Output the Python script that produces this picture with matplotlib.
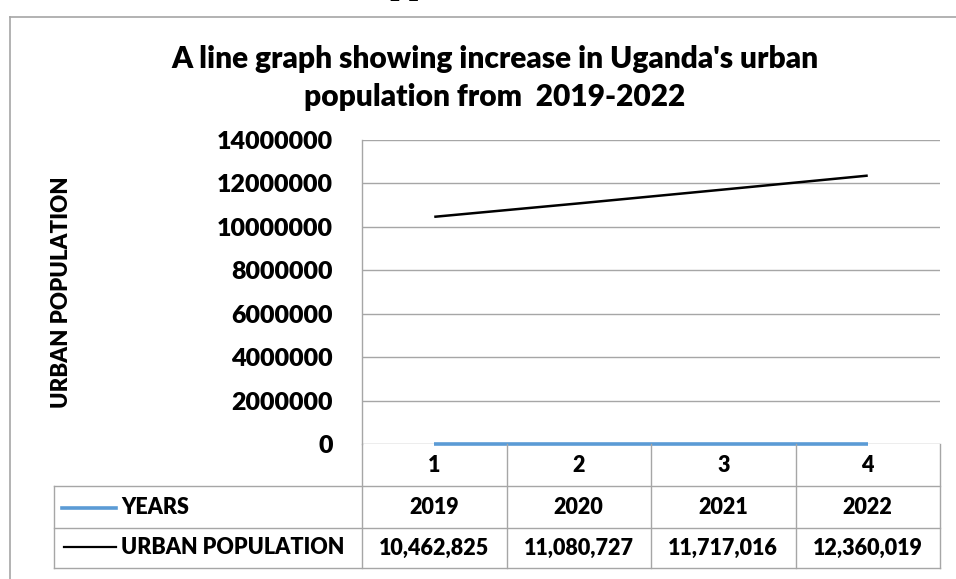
import matplotlib
matplotlib.use("Agg")
import matplotlib.pyplot as plt
from matplotlib.lines import Line2D
from matplotlib.transforms import blended_transform_factory

# ---- data ----
categories = ["1", "2", "3", "4"]
years = [2019, 2020, 2021, 2022]
urban_population = [10462825, 11080727, 11717016, 12360019]
series_names = ["YEARS", "URBAN POPULATION"]
yticks = [0, 2000000, 4000000, 6000000, 8000000, 10000000, 12000000, 14000000]
title = "A line graph showing increase in Uganda's urban\npopulation from  2019-2022"
ylabel = "URBAN POPULATION"

W, H = 956, 579
plt.rcParams['font.family'] = ['Lato', 'DejaVu Sans']
plt.rcParams['font.weight'] = 'bold'
WT = 'heavy'

fig = plt.figure(figsize=(W / 100, H / 100), dpi=100)
fig.patch.set_facecolor("white")

def fx(x):
    return x / W

def fy(y):
    return 1 - y / H

GRID = "#a6a6a6"
BLUE = "#5b9bd5"

# axes: left 362, right 940, top 140, bottom 444 (px)
ax = fig.add_axes([fx(362), fy(444), fx(940) - fx(362), fy(140) - fy(444)])
ax.set_xlim(-0.5, len(categories) - 0.5)
ax.set_ylim(yticks[0], yticks[-1])
ax.set_yticks(yticks)
ax.set_yticklabels([str(v) for v in yticks], fontsize=18, fontweight=WT)
ax.set_xticks([])
ax.tick_params(axis='y', length=0, pad=21)
ax.grid(axis='y', color=GRID, linewidth=1.0)
ax.set_axisbelow(True)
for s in ["top", "right", "bottom"]:
    ax.spines[s].set_visible(False)
ax.spines["left"].set_color(GRID)
ax.spines["left"].set_linewidth(1.0)

xs = list(range(len(categories)))
ax.plot(xs, years, color=BLUE, linewidth=2.6, solid_capstyle='butt', zorder=3, clip_on=False)
ax.plot(xs, urban_population, color="black", linewidth=1.8, solid_capstyle='butt', zorder=3)

# ---- y label ----
fig.text(fx(61), fy(292), ylabel, rotation=90, ha='center', va='center',
         fontsize=16, fontweight=WT)

# ---- title ----
fig.text(fx(495), fy(78), title, ha='center', va='center', fontsize=21.5,
         fontweight=WT, linespacing=1.45)

# ---- heading of the document, cut off at the top ----
fig.text(fx(367), fy(-6), "Appendix", ha='left', va='baseline', fontsize=24,
         fontweight='bold', family=['Liberation Serif', 'DejaVu Serif'])

# ---- chart outer border ----
fig.add_artist(Line2D([fx(10), fx(10)], [fy(17), fy(H + 5)], transform=fig.transFigure,
                      color=GRID, linewidth=1.2))
fig.add_artist(Line2D([fx(10), fx(W + 5)], [fy(17), fy(17)], transform=fig.transFigure,
                      color=GRID, linewidth=1.2))

# ---- data table ----
tb = blended_transform_factory(ax.transData, fig.transFigure)
row_tops = [444, 486, 528, 568]
tl = 54
tr = 940
lw = 1.0
for y in row_tops[1:]:
    fig.add_artist(Line2D([fx(tl), fx(tr)], [fy(y), fy(y)], transform=fig.transFigure,
                          color=GRID, linewidth=lw))
fig.add_artist(Line2D([fx(tl), fx(tl)], [fy(486), fy(568)], transform=fig.transFigure,
                      color=GRID, linewidth=lw))
for i in range(len(categories) + 1):
    x = i - 0.5
    fig.add_artist(Line2D([x, x], [fy(444), fy(568)], transform=tb,
                          color=GRID, linewidth=lw))

row_centers = [466, 507, 548]
TS = 15.5
for i, c in enumerate(categories):
    fig.text(i, fy(row_centers[0]), c, transform=tb, ha='center', va='center',
             fontsize=TS, fontweight=WT)
    fig.text(i, fy(row_centers[1]), str(years[i]), transform=tb, ha='center', va='center',
             fontsize=TS, fontweight=WT)
    fig.text(i, fy(row_centers[2]), f"{urban_population[i]:,}", transform=tb, ha='center',
             va='center', fontsize=TS, fontweight=WT)

fig.add_artist(Line2D([fx(62), fx(116)], [fy(508), fy(508)], transform=fig.transFigure,
                      color=BLUE, linewidth=2.6))
fig.add_artist(Line2D([fx(64), fx(116)], [fy(547), fy(547)], transform=fig.transFigure,
                      color="black", linewidth=1.6))
fig.text(fx(121), fy(row_centers[1]), series_names[0], ha='left', va='center',
         fontsize=TS, fontweight=WT)
fig.text(fx(121), fy(row_centers[2]), series_names[1], ha='left', va='center',
         fontsize=TS, fontweight=WT)

fig.savefig("out.png", dpi=100, facecolor="white")
